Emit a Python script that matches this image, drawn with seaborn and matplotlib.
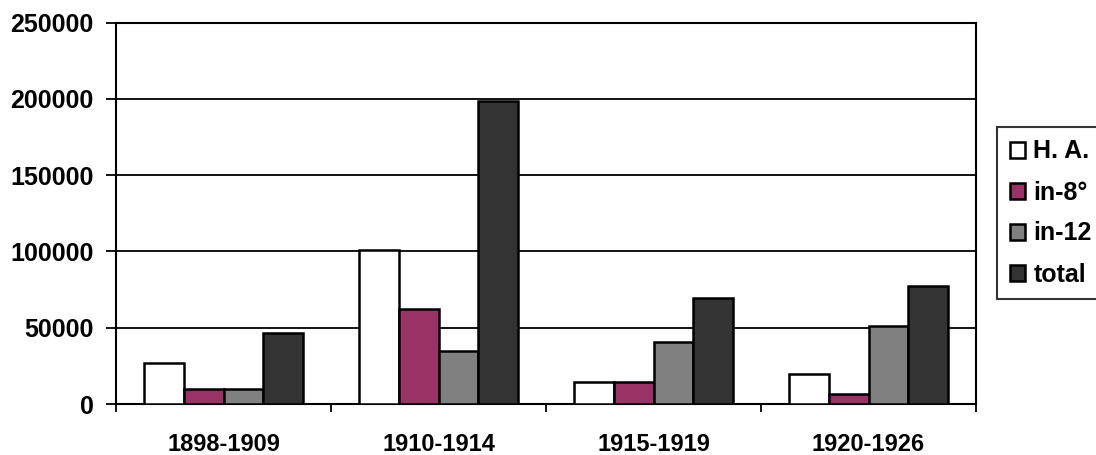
import matplotlib
matplotlib.use("Agg")
import matplotlib.pyplot as plt
import seaborn as sns
import pandas as pd
import numpy as np

# Print runs per period
periods = ["1898-1909", "1910-1914", "1915-1919", "1920-1926"]
series = ["H. A.", "in-8°", "in-12", "total"]
ha = [27000, 101000, 14500, 19700]
in8 = [9800, 62000, 14600, 6300]
in12 = [10000, 34500, 40600, 51100]
total = [46500, 198500, 69500, 77400]
colors = ["#FFFFFF", "#993366", "#808080", "#333333"]
yticks = [0, 50000, 100000, 150000, 200000, 250000]

df = pd.DataFrame({
    "period": np.repeat(periods, len(series)),
    "series": series * len(periods),
    "value": np.ravel(np.column_stack([ha, in8, in12, total])),
})

sns.set_theme(style="white")
plt.rcParams["font.family"] = ["Liberation Sans", "DejaVu Sans"]
plt.rcParams["font.weight"] = "bold"
plt.rcParams["text.color"] = "black"
plt.rcParams["xtick.color"] = "black"
plt.rcParams["ytick.color"] = "black"

FS = 18

fig = plt.figure(figsize=(10.96, 4.55), dpi=100)
ax = fig.add_axes([116 / 1096, 1 - 404 / 455, (976 - 116) / 1096, (404 - 22.7) / 455])

sns.barplot(data=df, x="period", y="value", hue="series", order=periods,
            hue_order=series, palette=colors, width=0.735, edgecolor="black",
            linewidth=1.8, saturation=1, ax=ax, zorder=3)

ax.set_xlim(-0.5, len(periods) - 0.5)
ax.set_ylim(0, 250000)
ax.set_yticks(yticks)
ax.set_yticklabels([str(v) for v in yticks], fontsize=FS, fontweight="bold", color="black")
ax.yaxis.grid(True, color="black", linewidth=1.3, zorder=0)
ax.set_axisbelow(True)

ax.set_xlabel("")
ax.set_ylabel("")
ax.set_xticks(range(len(periods)))
ax.set_xticklabels(periods, fontsize=17, fontweight="bold", color="black")
ax.set_xticks(np.arange(-0.5, len(periods)), minor=True)
ax.tick_params(axis="x", which="major", length=0, pad=21)
ax.tick_params(axis="x", which="minor", length=6, width=1.3, color="black", direction="out", bottom=True)
ax.tick_params(axis="y", which="major", length=7, width=1.3, color="black", direction="out", left=True, pad=9)

for s in ax.spines.values():
    s.set_visible(True)
    s.set_color("black")
    s.set_linewidth(1.5)

handles, labels = ax.get_legend_handles_labels()
ax.get_legend().remove()
leg = fig.legend(handles, labels, loc="upper left",
                 bbox_to_anchor=(997 / 1096, 1 - 127 / 455),
                 frameon=True, fancybox=False, edgecolor="black",
                 prop={"size": FS, "weight": "bold"},
                 handlelength=0.62, handleheight=0.62, handletextpad=0.33,
                 labelspacing=0.68, borderpad=0.5, borderaxespad=0)
leg.get_frame().set_linewidth(1.5)
for t in leg.get_texts():
    t.set_color("black")

fig.savefig("out.png", dpi=100, facecolor="white")
